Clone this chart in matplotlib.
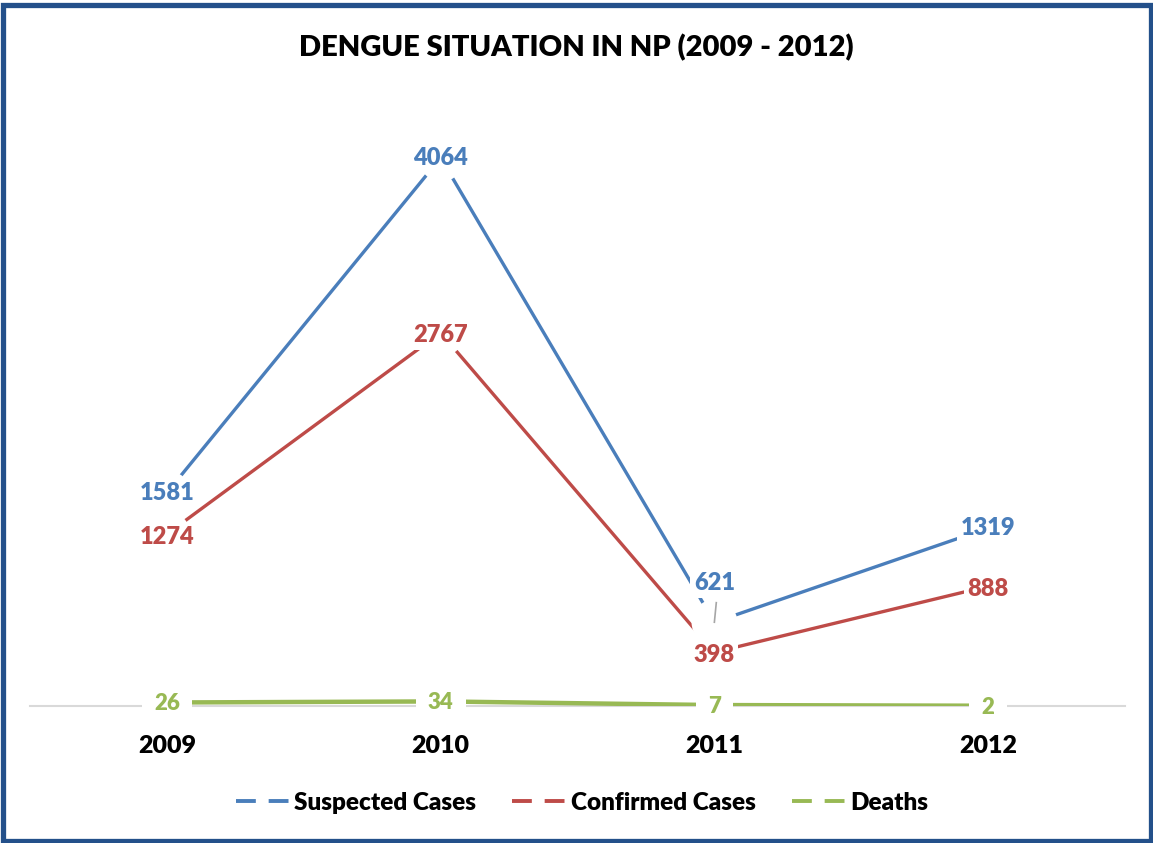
import matplotlib.pyplot as plt
from matplotlib.patches import Rectangle

plt.rcParams['font.family'] = ['Lato', 'DejaVu Sans']

# chart data
years = ['2009', '2010', '2011', '2012']
suspected = [1581, 4064, 621, 1319]
confirmed = [1274, 2767, 398, 888]
deaths = [26, 34, 7, 2]

blue = '#4a7ebb'
red = '#be4b48'
green = '#98b954'

W, H = 1153, 843
fig = plt.figure(figsize=(W / 100, H / 100), dpi=100)
ax = fig.add_axes([30 / W, (H - 706) / H, 1095 / W, 607 / H])

x = range(len(years))

# lines
ax.plot(x, suspected, color=blue, lw=2.4, zorder=2, solid_capstyle='butt')
ax.plot(x, confirmed, color=red, lw=2.4, zorder=2, solid_capstyle='butt')
ax.plot(x, deaths, color=green, lw=3.2, zorder=2, solid_capstyle='butt')

# white gaps around the points (like the original)
for series in (suspected, confirmed):
    ax.plot(x, series, ls='none', marker='o', ms=33, mfc='white', mec='none', zorder=3)

lab = dict(ha='center', va='center', fontsize=17, fontweight='heavy', zorder=5,
           bbox=dict(boxstyle='square,pad=0.15', fc='white', ec='none'))

for i, v in enumerate(suspected):
    if i == 2:
        # moved label with leader line
        ax.annotate(str(v), xy=(i, v), xytext=(i, v + 290), color=blue, **lab)
        ax.plot([i + 0.007, i], [v + 145, v], color='#a6a6a6', lw=1.2, zorder=4)
    else:
        ax.text(i, v, str(v), color=blue, **lab)
for i, v in enumerate(confirmed):
    ax.text(i, v - 20, str(v), color=red, **lab)
dlab = dict(lab)
dlab['fontsize'] = 16
dlab['bbox'] = dict(boxstyle='square,pad=0.55', fc='white', ec='none')
for i, v in enumerate(deaths):
    ax.text(i, v - 10, str(v), color=green, **dlab)

ax.set_xlim(-0.5, 3.5)
ax.set_ylim(0, 4500)
ax.set_yticks([])
ax.set_xticks(list(x), years, fontsize=18, fontweight='heavy')
ax.tick_params(axis='x', length=0, pad=21)
for s in ['top', 'left', 'right']:
    ax.spines[s].set_visible(False)
ax.spines['bottom'].set_color('#d9d9d9')
ax.spines['bottom'].set_linewidth(1.5)
ax.spines['bottom'].set_zorder(1)

fig.text(0.5, 1 - 48 / H, 'DENGUE SITUATION IN NP (2009 - 2012)', ha='center', va='center',
         fontsize=21, fontweight='heavy')

handles = [plt.Line2D([], [], color=c, lw=2.8, ls=(0, (5.1, 3.3)))
           for c in (blue, red, green)]
fig.legend(handles, ['Suspected Cases', 'Confirmed Cases', 'Deaths'], loc='center',
           bbox_to_anchor=(582 / W, 1 - 803 / H), ncol=3, frameon=False,
           prop={'size': 17.5, 'weight': 'heavy'}, handlelength=2.3, handletextpad=0.1,
           columnspacing=1.5)

# outer frame
fig.patches.append(Rectangle((2.5 / W, 2.5 / H), 1 - 5 / W, 1 - 7 / H, transform=fig.transFigure,
                             fill=False, ec='#23508a', lw=3.8))

fig.savefig('out.png', dpi=100)
